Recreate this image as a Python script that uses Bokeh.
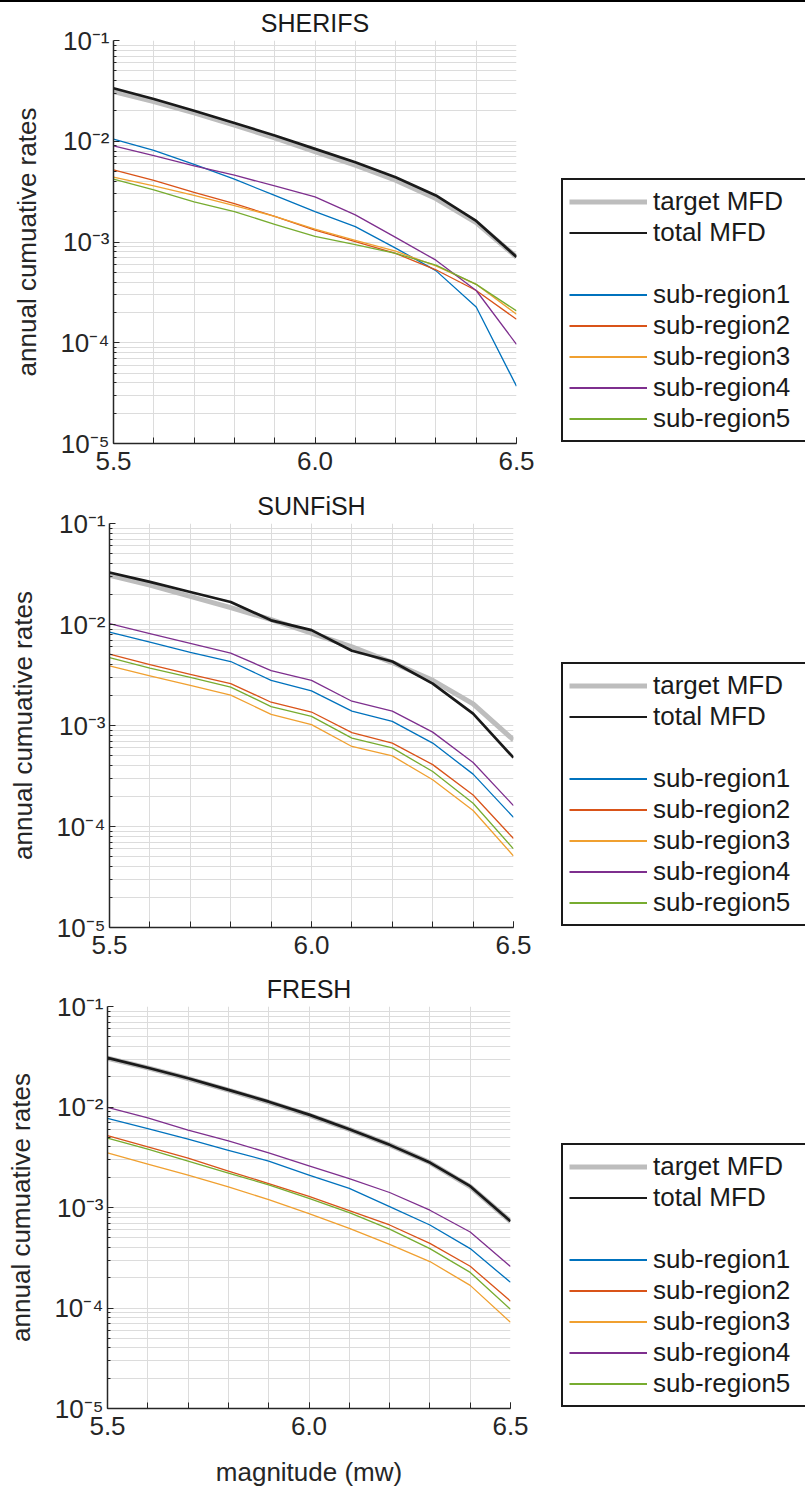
from bokeh.plotting import figure
from bokeh.models import Range1d, FixedTicker, CustomJSTickFormatter, Legend, LegendItem
from bokeh.layouts import column, row
from bokeh.embed import file_html
from bokeh.resources import INLINE

# ---------------- data ----------------
magnitude = [5.5, 5.6, 5.7, 5.8, 5.9, 6.0, 6.1, 6.2, 6.3, 6.4, 6.5]

panel_titles = ["SHERIFS", "SUNFiSH", "FRESH"]
series_labels = ["sub-region1", "sub-region2", "sub-region3", "sub-region4", "sub-region5"]

sherifs_target = [0.0311, 0.0248, 0.0191, 0.0145, 0.0108, 0.0079, 0.0058, 0.0041, 0.0027, 0.00156, 0.00071]
sherifs_total = [0.0336, 0.0263, 0.0201, 0.0152, 0.0114, 0.0084, 0.0062, 0.0044, 0.0029, 0.00162, 0.00071]
sherifs_sub1 = [0.0105, 0.0081, 0.0059, 0.0042, 0.0029, 0.0020, 0.00142, 0.00087, 0.00052, 0.000226, 0.000037]
sherifs_sub2 = [0.0052, 0.0041, 0.0031, 0.0024, 0.0018, 0.00131, 0.00101, 0.00077, 0.00053, 0.00033, 0.000171]
sherifs_sub3 = [0.0044, 0.0036, 0.0029, 0.0023, 0.0018, 0.00134, 0.00104, 0.00081, 0.00058, 0.00038, 0.000192]
sherifs_sub4 = [0.0090, 0.0072, 0.0057, 0.0046, 0.0036, 0.0028, 0.00186, 0.00111, 0.00066, 0.00033, 0.0000965]
sherifs_sub5 = [0.0042, 0.0033, 0.0025, 0.0020, 0.0015, 0.00114, 0.00094, 0.00077, 0.00059, 0.00038, 0.000207]

sunfish_target = [0.0307, 0.0245, 0.0190, 0.0147, 0.0112, 0.0082, 0.0060, 0.0042, 0.0028, 0.00164, 0.00072]
sunfish_total = [0.0327, 0.0264, 0.0210, 0.0167, 0.0110, 0.0088, 0.0055, 0.0043, 0.0026, 0.00131, 0.00048]
sunfish_sub1 = [0.0084, 0.0067, 0.0053, 0.0043, 0.0028, 0.0022, 0.00139, 0.00110, 0.00067, 0.00033, 0.000123]
sunfish_sub2 = [0.0051, 0.0040, 0.0032, 0.0026, 0.0017, 0.00136, 0.00085, 0.00067, 0.00041, 0.000205, 0.000076]
sunfish_sub3 = [0.0039, 0.0031, 0.0025, 0.0020, 0.00129, 0.00102, 0.00062, 0.00050, 0.00029, 0.000144, 0.000051]
sunfish_sub4 = [0.0102, 0.0081, 0.0065, 0.0052, 0.0035, 0.0028, 0.00174, 0.00139, 0.00086, 0.00043, 0.000161]
sunfish_sub5 = [0.0047, 0.0037, 0.0030, 0.0024, 0.00154, 0.00123, 0.00075, 0.00060, 0.00035, 0.000170, 0.000060]

fresh_target = [0.0306, 0.0245, 0.0192, 0.0147, 0.0112, 0.0083, 0.0060, 0.0042, 0.0028, 0.00161, 0.00073]
fresh_total = [0.0308, 0.0246, 0.0193, 0.0148, 0.0113, 0.0084, 0.0060, 0.0042, 0.0028, 0.00163, 0.00073]
fresh_sub1 = [0.0077, 0.0061, 0.0048, 0.0037, 0.0029, 0.0021, 0.00155, 0.00102, 0.00067, 0.00039, 0.000180]
fresh_sub2 = [0.0052, 0.0040, 0.0031, 0.0023, 0.00173, 0.00129, 0.00093, 0.00067, 0.00044, 0.00026, 0.000117]
fresh_sub3 = [0.0035, 0.0027, 0.0021, 0.0016, 0.0012, 0.00087, 0.00062, 0.00043, 0.00029, 0.000168, 0.000072]
fresh_sub4 = [0.0099, 0.0078, 0.0059, 0.0046, 0.0035, 0.0026, 0.00194, 0.00141, 0.00094, 0.00057, 0.000259]
fresh_sub5 = [0.0049, 0.0038, 0.0029, 0.0022, 0.00168, 0.00123, 0.00089, 0.00061, 0.00039, 0.000226, 0.000097]

# ---------------- style ----------------
FONT = "Liberation Sans"
TXT = "#262626"
GRID = "#dcdcdc"
TARGET_STYLE = dict(line_color="#bdbdbd", line_width=5)
TOTAL_STYLE = dict(line_color="#1a1a1a", line_width=2.7)
SUB_COLORS = ["#0072BD", "#D95319", "#F0A030", "#7E2F8E", "#77AC30"]
SUB_WIDTH = 1.3

SUP_JS = """
const sup = {"-": "\u207b", "0": "\u2070", "1": "\u00b9", "2": "\u00b2", "3": "\u00b3",
             "4": "\u2074", "5": "\u2075", "6": "\u2076", "7": "\u2077", "8": "\u2078", "9": "\u2079"};
const e = Math.round(Math.log10(tick));
return "10" + String(e).split("").map(c => sup[c]).join("");
"""

MAIN_W = 540
LEG_W = 805 - MAIN_W


def make_panel(title, target, total, subs, height, b_left, b_right, b_top, b_bottom, xlabel=None):
    p = figure(width=MAIN_W, height=height,
               x_range=Range1d(5.5, 6.5), y_range=Range1d(1e-5, 1e-1),
               y_axis_type="log", output_backend="svg", toolbar_location=None,
               min_border_left=b_left, min_border_right=b_right,
               min_border_top=b_top, min_border_bottom=b_bottom)
    p.outline_line_color = None

    p.title.text = title
    p.title.align = "center"
    p.title.text_font = FONT
    p.title.text_font_size = "25px"
    p.title.text_font_style = "normal"
    p.title.text_color = "#1a1a1a"
    p.title.standoff = 7

    p.xaxis.ticker = FixedTicker(ticks=[5.5, 6.0, 6.5],
                                 minor_ticks=[5.5 + 0.1 * i for i in range(11)])
    p.xaxis.formatter = CustomJSTickFormatter(code="return tick.toFixed(1);")
    p.yaxis.ticker = FixedTicker(ticks=[1e-5, 1e-4, 1e-3, 1e-2, 1e-1],
                                 minor_ticks=[m * 10.0 ** e for e in range(-5, -1) for m in range(2, 10)])
    p.yaxis.formatter = CustomJSTickFormatter(code=SUP_JS)

    for ax in (p.xaxis, p.yaxis):
        ax.axis_line_color = TXT
        ax.axis_line_width = 1.5
        ax.major_tick_line_color = TXT
        ax.minor_tick_line_color = TXT
        ax.major_tick_out = 0
        ax.minor_tick_out = 0
        ax.major_label_text_font = FONT
        ax.major_label_text_font_size = "26px"
        ax.major_label_text_color = TXT
        ax.axis_label_text_font = FONT
        ax.axis_label_text_font_size = "26px"
        ax.axis_label_text_font_style = "normal"
        ax.axis_label_text_color = TXT
    p.xaxis.major_tick_in = 6
    p.xaxis.minor_tick_in = 6
    p.xaxis.major_label_standoff = 8
    p.yaxis.major_tick_in = 6
    p.yaxis.minor_tick_in = 3
    p.yaxis.major_label_standoff = 4
    p.yaxis.axis_label = "annual cumuative rates"
    p.yaxis.axis_label_standoff = 15
    if xlabel:
        p.xaxis.axis_label = xlabel
        p.xaxis.axis_label_standoff = 19

    p.xgrid.grid_line_color = GRID
    p.xgrid.minor_grid_line_color = GRID
    p.ygrid.grid_line_color = GRID
    p.ygrid.minor_grid_line_color = GRID

    p.line(magnitude, target, line_join="round", **TARGET_STYLE)
    p.line(magnitude, total, line_join="round", **TOTAL_STYLE)
    for vals, col in zip(subs, SUB_COLORS):
        p.line(magnitude, vals, line_color=col, line_width=SUB_WIDTH, line_join="round")
    return p


def make_legend(target, total, subs, height, b_bottom):
    # the frame of this figure is the legend's area; its x range keeps the series out of view,
    # they only feed the legend glyphs
    q = figure(width=LEG_W, height=height, x_range=Range1d(0, 1), y_range=Range1d(0, 1),
               output_backend="svg", toolbar_location=None,
               x_axis_location=None, y_axis_location=None,
               min_border_left=20, min_border_right=0, min_border_top=0, min_border_bottom=b_bottom)
    q.outline_line_color = None
    q.grid.visible = False
    r_target = q.line(magnitude, target, **TARGET_STYLE)
    r_total = q.line(magnitude, total, line_color="#1a1a1a", line_width=2.2)
    r_blank = q.line(magnitude, total, line_alpha=0)
    items = [LegendItem(label="target MFD", renderers=[r_target]),
             LegendItem(label="total MFD", renderers=[r_total]),
             LegendItem(label=" ", renderers=[r_blank])]
    for lab, vals, col in zip(series_labels, subs, SUB_COLORS):
        r = q.line(magnitude, vals, line_color=col, line_width=2)
        items.append(LegendItem(label=lab, renderers=[r]))
    leg = Legend(items=items, location="bottom_left", margin=1, padding=6,
                 spacing=0, glyph_width=78, glyph_height=31, label_height=31,
                 label_width=175, label_standoff=6,
                 label_text_font=FONT, label_text_font_size="26px", label_text_color="#1a1a1a",
                 border_line_color="#1a1a1a", border_line_width=2, border_line_alpha=1.0,
                 background_fill_color="white", background_fill_alpha=1.0)
    q.add_layout(leg, "center")
    return q


sherifs_subs = [sherifs_sub1, sherifs_sub2, sherifs_sub3, sherifs_sub4, sherifs_sub5]
sunfish_subs = [sunfish_sub1, sunfish_sub2, sunfish_sub3, sunfish_sub4, sunfish_sub5]
fresh_subs = [fresh_sub1, fresh_sub2, fresh_sub3, fresh_sub4, fresh_sub5]

p1 = make_panel(panel_titles[0], sherifs_target, sherifs_total, sherifs_subs,
                height=482, b_left=113, b_right=MAIN_W - 516, b_top=38, b_bottom=41)
p2 = make_panel(panel_titles[1], sunfish_target, sunfish_total, sunfish_subs,
                height=485, b_left=109, b_right=MAIN_W - 513, b_top=39, b_bottom=42)
p3 = make_panel(panel_titles[2], fresh_target, fresh_total, fresh_subs,
                height=521, b_left=107, b_right=MAIN_W - 510, b_top=37, b_bottom=80,
                xlabel="magnitude (mw)")

l1 = make_legend(sherifs_target, sherifs_total, sherifs_subs, 482, 38)
l2 = make_legend(sunfish_target, sunfish_total, sunfish_subs, 485, 42)
l3 = make_legend(fresh_target, fresh_total, fresh_subs, 521, 82)

layout = column(row(p1, l1), row(p2, l2), row(p3, l3), spacing=0)
layout.styles = {"border-top": "2px solid #000000"}
open("out.html", "w").write(file_html(layout, INLINE))
